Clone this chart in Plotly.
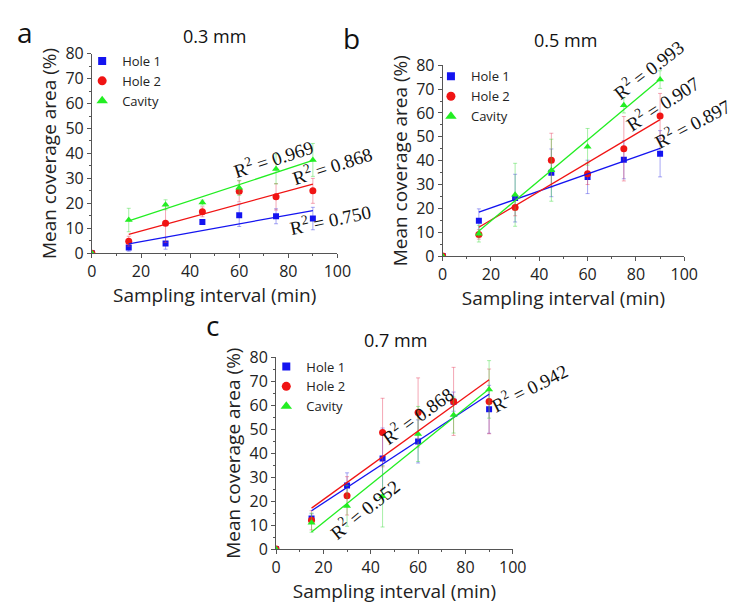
import numpy as np
import plotly.graph_objects as go

# ---------------- data ----------------
intervals = [0, 15, 30, 45, 60, 75, 90]
series_names = ["Hole 1", "Hole 2", "Cavity"]
panel_titles = ["0.3 mm", "0.5 mm", "0.7 mm"]
panel_letters = ["a", "b", "c"]

a_hole1 = [0, 2.3, 3.9, 12.5, 15.2, 14.8, 13.9]
a_hole1_err = [0, 1.5, 2.3, 1.0, 4.5, 3.0, 4.5]
a_hole2 = [0, 4.8, 12.0, 16.6, 24.8, 22.6, 25.0]
a_hole2_err = [0, 2.0, 7.7, 2.0, 4.2, 5.3, 5.0]
a_cavity = [0, 13.3, 19.4, 20.3, 26.2, 33.8, 37.4]
a_cavity_err = [0, 4.7, 2.0, 1.0, 3.0, 6.0, 6.6]

b_hole1 = [0, 14.8, 24.3, 34.9, 33.2, 40.4, 42.9]
b_hole1_err = [0, 5.0, 10.0, 10.0, 7.0, 8.0, 9.7]
b_hole2 = [0, 9.1, 20.4, 40.2, 34.5, 45.0, 58.7]
b_hole2_err = [0, 2.0, 3.5, 11.3, 4.5, 13.5, 9.5]
b_cavity = [0, 9.4, 25.7, 36.0, 45.8, 63.2, 74.0]
b_cavity_err = [0, 3.5, 13.2, 13.0, 7.7, 3.2, 3.7]

c_hole1 = [0, 12.7, 26.5, 37.8, 44.9, 61.5, 58.3]
c_hole1_err = [0, 2.0, 5.3, 12.7, 9.0, 4.0, 10.0]
c_hole2 = [0, 12.0, 22.2, 48.6, 57.0, 61.6, 61.6]
c_hole2_err = [0, 4.0, 8.0, 14.3, 14.4, 14.2, 13.5]
c_cavity = [0, 11.0, 18.0, 22.0, 48.0, 55.9, 66.6]
c_cavity_err = [0, 4.0, 8.5, 12.8, 11.5, 7.5, 12.0]

r2_a = ["0.750", "0.868", "0.969"]
r2_b = ["0.897", "0.907", "0.993"]
r2_c = ["0.942", "0.868", "0.952"]

x_ticks = [0, 20, 40, 60, 80, 100]
y_ticks = [0, 10, 20, 30, 40, 50, 60, 70, 80]

# ---------------- styling ----------------
W, H = 737, 607
colors = ["#1414F0", "#F01414", "#22EE22"]
err_colors = ["rgba(60,60,230,0.45)", "rgba(230,60,90,0.45)", "rgba(60,220,60,0.45)"]
symbols = ["square", "circle", "triangle-up"]
msizes = [6, 7, 7]
legend_msizes = [8, 9, 10]
FONT = "Open Sans"

panels = [
    dict(data=[(a_hole1, a_hole1_err), (a_hole2, a_hole2_err), (a_cavity, a_cavity_err)],
         r2=r2_a, px=(81, 333), py=(36, 243), legend=(71, 28),
         r2pos=[(325, 208, -12), (327, 152, -18), (267, 144, -18)],
         title=(207, 18), letter=(12, 14)),
    dict(data=[(b_hole1, b_hole1_err), (b_hole2, b_hole2_err), (b_cavity, b_cavity_err)],
         r2=r2_b, px=(441, 689), py=(48, 246), legend=(429, 44),
         r2pos=[(697, 108, -28), (666, 87, -33), (652, 52, -38)],
         title=(567, 22), letter=(347, 20)),
    dict(data=[(c_hole1, c_hole1_err), (c_hole2, c_hole2_err), (c_cavity, c_cavity_err)],
         r2=r2_c, px=(270, 513), py=(351, 550), legend=(260, 345),
         r2pos=[(530, 382, -27), (415, 411, -36), (360, 508, -39)],
         title=(393, 333), letter=(205, 317)),
]

fig = go.Figure()
annotations = []
layout_axes = {}

for i, p in enumerate(panels):
    sfx = "" if i == 0 else str(i + 1)
    xa, ya = "x" + sfx, "y" + sfx
    leg = "legend" + sfx
    for j, (vals, errs) in enumerate(p["data"]):
        fig.add_trace(go.Scatter(
            x=intervals, y=vals, mode="markers", name=series_names[j],
            marker=dict(symbol=symbols[j], size=msizes[j], color=colors[j]),
            error_y=dict(type="data", array=errs, visible=True, color=err_colors[j],
                         thickness=1, width=2),
            xaxis=xa, yaxis=ya, showlegend=False, cliponaxis=True,
        ))
    for j in range(3):
        # legend entry (slightly larger symbol, as in the original legend)
        fig.add_trace(go.Scatter(
            x=[None], y=[None], mode="markers", name=series_names[j],
            marker=dict(symbol=symbols[j], size=legend_msizes[j], color=colors[j]),
            xaxis=xa, yaxis=ya, legend=leg, showlegend=True, hoverinfo="skip",
        ))
    for j, (vals, errs) in enumerate(p["data"]):
        # linear fit over the sampled intervals (origin excluded)
        xs = np.array(intervals[1:], dtype=float)
        ys = np.array(vals[1:], dtype=float)
        k, b = np.polyfit(xs, ys, 1)
        xf = np.array([xs.min(), xs.max()])
        fig.add_trace(go.Scatter(
            x=xf, y=k * xf + b, mode="lines", line=dict(color=colors[j], width=1.3),
            showlegend=False, hoverinfo="skip", xaxis=xa, yaxis=ya,
        ))
    x0, x1 = p["px"]
    y0, y1 = p["py"]
    common = dict(showgrid=False, zeroline=False, showline=True, linecolor="#555",
                  linewidth=1, ticks="outside", ticklen=4, tickcolor="#555",
                  tickfont=dict(family=FONT, size=16, color="#222"))
    layout_axes["xaxis" + sfx] = dict(
        common, domain=[x0 / W, x1 / W], anchor=ya, range=[0, 100],
        tickvals=x_ticks, minor=dict(ticks="outside", ticklen=2, dtick=10, tickcolor="#555"),
        title=dict(text="Sampling interval (min)", font=dict(family=FONT, size=19, color="#222"),
                   standoff=6))
    layout_axes["yaxis" + sfx] = dict(
        common, domain=[1 - y1 / H, 1 - y0 / H], anchor=xa, range=[0, 80],
        tickvals=y_ticks, minor=dict(ticks="outside", ticklen=2, dtick=5, tickcolor="#555"),
        title=dict(text="Mean coverage area (%)", font=dict(family=FONT, size=19, color="#222"),
                   standoff=3))
    layout_axes[leg] = dict(
        x=p["legend"][0] / W, y=1 - p["legend"][1] / H, xanchor="left", yanchor="top",
        bgcolor="rgba(0,0,0,0)", font=dict(family=FONT, size=13, color="#222"),
        tracegroupgap=0, itemwidth=30)
    for j, (qx, qy, ang) in enumerate(p["r2pos"]):
        annotations.append(dict(
            x=qx / W, y=1 - qy / H, xref="paper", yref="paper", text="R<sup>2</sup> = " + p["r2"][j],
            showarrow=False, textangle=ang, font=dict(family="Liberation Serif", size=19, color="#111"),
            xanchor="center", yanchor="middle"))
    annotations.append(dict(x=p["title"][0] / W, y=1 - p["title"][1] / H, xref="paper", yref="paper",
                            text=panel_titles[i], showarrow=False, xanchor="center", yanchor="middle",
                            font=dict(family=FONT, size=18, color="#111")))
    annotations.append(dict(x=p["letter"][0] / W, y=1 - p["letter"][1] / H, xref="paper", yref="paper",
                            text=panel_letters[i], showarrow=False, xanchor="center", yanchor="middle",
                            font=dict(family=FONT, size=28, color="#111")))

fig.update_layout(
    width=W, height=H, margin=dict(l=0, r=0, t=0, b=0),
    paper_bgcolor="white", plot_bgcolor="white",
    annotations=annotations, **layout_axes,
)

fig.write_html("out.html")
